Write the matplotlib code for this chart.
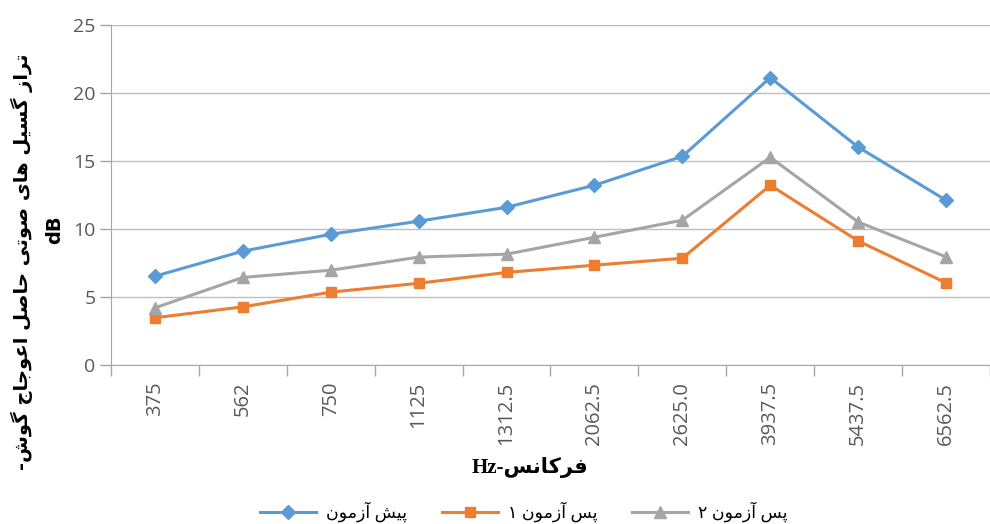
import re
import numpy as np
import matplotlib
matplotlib.use("Agg")
import matplotlib.pyplot as plt

# data
freqs = ["375", "562", "750", "1125", "1312.5", "2062.5", "2625.0", "3937.5", "5437.5", "6562.5"]
pre_test = [6.52, 8.36, 9.6, 10.56, 11.58, 13.2, 15.32, 21.1, 16.0, 12.1]
post_test1 = [3.47, 4.27, 5.35, 6.0, 6.8, 7.33, 7.84, 13.2, 9.11, 6.03]
post_test2 = [4.2, 6.43, 6.96, 7.92, 8.14, 9.38, 10.63, 15.25, 10.5, 7.94]

series_names = ["پیش آزمون", "پس آزمون ۱", "پس آزمون ۲"]
ylabel_fa = "تراز گسیل های صوتی حاصل اعوجاج گوش-"
xlabel_fa = "فرکانس-Hz"

# small persian shaper (matplotlib has no arabic shaping / bidi)
# isolated, final, initial, medial
forms = {
    "ا": ("\uFE8D", "\uFE8E"), "آ": ("\uFE81", "\uFE82"),
    "ر": ("\uFEAD", "\uFEAE"), "ز": ("\uFEAF", "\uFEB0"),
    "و": ("\uFEED", "\uFEEE"),
    "ب": ("\uFE8F", "\uFE90", "\uFE91", "\uFE92"),
    "پ": ("\uFB56", "\uFB57", "\uFB58", "\uFB59"),
    "ت": ("\uFE95", "\uFE96", "\uFE97", "\uFE98"),
    "ج": ("\uFE9D", "\uFE9E", "\uFE9F", "\uFEA0"),
    "ح": ("\uFEA1", "\uFEA2", "\uFEA3", "\uFEA4"),
    "س": ("\uFEB1", "\uFEB2", "\uFEB3", "\uFEB4"),
    "ش": ("\uFEB5", "\uFEB6", "\uFEB7", "\uFEB8"),
    "ص": ("\uFEB9", "\uFEBA", "\uFEBB", "\uFEBC"),
    "ع": ("\uFEC9", "\uFECA", "\uFECB", "\uFECC"),
    "ف": ("\uFED1", "\uFED2", "\uFED3", "\uFED4"),
    "ک": ("\uFB8E", "\uFB8F", "\uFB90", "\uFB91"),
    "گ": ("\uFB92", "\uFB93", "\uFB94", "\uFB95"),
    "ل": ("\uFEDD", "\uFEDE", "\uFEDF", "\uFEE0"),
    "م": ("\uFEE1", "\uFEE2", "\uFEE3", "\uFEE4"),
    "ن": ("\uFEE5", "\uFEE6", "\uFEE7", "\uFEE8"),
    "ه": ("\uFEE9", "\uFEEA", "\uFEEB", "\uFEEC"),
    "ی": ("\uFBFC", "\uFBFD", "\uFBFE", "\uFBFF"),
}


def shape(s):
    out = []
    for i, c in enumerate(s):
        if c not in forms:
            out.append(c)
            continue
        prev = s[i - 1] if i > 0 else ""
        nxt = s[i + 1] if i + 1 < len(s) else ""
        join_prev = prev in forms and len(forms[prev]) == 4
        join_next = nxt in forms and len(forms[c]) == 4
        f = forms[c]
        if join_prev and join_next:
            out.append(f[3])
        elif join_prev:
            out.append(f[1])
        elif join_next:
            out.append(f[2])
        else:
            out.append(f[0])
    return "".join(out)


def fa(s):
    s = shape(s)
    runs = re.findall(r"[A-Za-z0-9.]+|[^A-Za-z0-9.]+", s)
    runs = runs[::-1]
    return "".join(r if re.match(r"[A-Za-z0-9.]", r) else r[::-1] for r in runs)


plt.rcParams['font.family'] = ['Open Sans', 'DejaVu Sans']

fig = plt.figure(figsize=(9.9, 5.24), dpi=100)
ax = fig.add_axes([0.1121, 0.3034, 0.8879, 0.6498])

x = np.arange(len(freqs))
ax.plot(x, pre_test, color="#5B9BD5", lw=2.2, marker="D", ms=7, label=fa(series_names[0]), zorder=3)
ax.plot(x, post_test1, color="#ED7D31", lw=2.2, marker="s", ms=7.5, label=fa(series_names[1]), zorder=3)
ax.plot(x, post_test2, color="#A5A5A5", lw=2.2, marker="^", ms=8.5, label=fa(series_names[2]), zorder=3)

ax.set_xlim(-0.5, 9.38)
ax.set_ylim(0, 25)
ax.set_yticks([0, 5, 10, 15, 20, 25])
ax.grid(axis="y", color="#BFBFBF", lw=1)
ax.set_axisbelow(True)

ax.set_xticks(x)
ax.set_xticklabels(freqs, rotation=90)
ax.set_xticks(np.arange(-0.5, 9.6, 1), minor=True)
ax.tick_params(axis="x", which="major", length=0, pad=12, labelsize=14.5, labelcolor="#595959")
ax.tick_params(axis="x", which="minor", length=8, color="#A6A6A6", width=1)
ax.tick_params(axis="y", length=8, color="#A6A6A6", width=1, labelsize=14, labelcolor="#595959", pad=3)

for side in ["top", "right"]:
    ax.spines[side].set_visible(False)
for side in ["left", "bottom"]:
    ax.spines[side].set_color("#A6A6A6")

fig.text(22 / 990, 1 - 262 / 524, fa(ylabel_fa), rotation=90, ha="center", va="center",
         fontsize=14, fontweight="bold", family=['DejaVu Sans'])
fig.text(55 / 990, 1 - 230 / 524, "dB", rotation=90, ha="center", va="center",
         fontsize=14, fontweight="bold", family=['DejaVu Sans'])
fig.text(530 / 990, 1 - 467 / 524, fa(xlabel_fa), ha="center", va="center",
         fontsize=15, fontweight="bold", family=['Liberation Serif', 'DejaVu Sans'])

fig.legend(loc="center", bbox_to_anchor=(524 / 990, 1 - 512 / 524), ncol=3, frameon=False,
           fontsize=12.5, handlelength=3.2, columnspacing=2.0, handletextpad=0.6)

fig.savefig("out.png", dpi=100)
